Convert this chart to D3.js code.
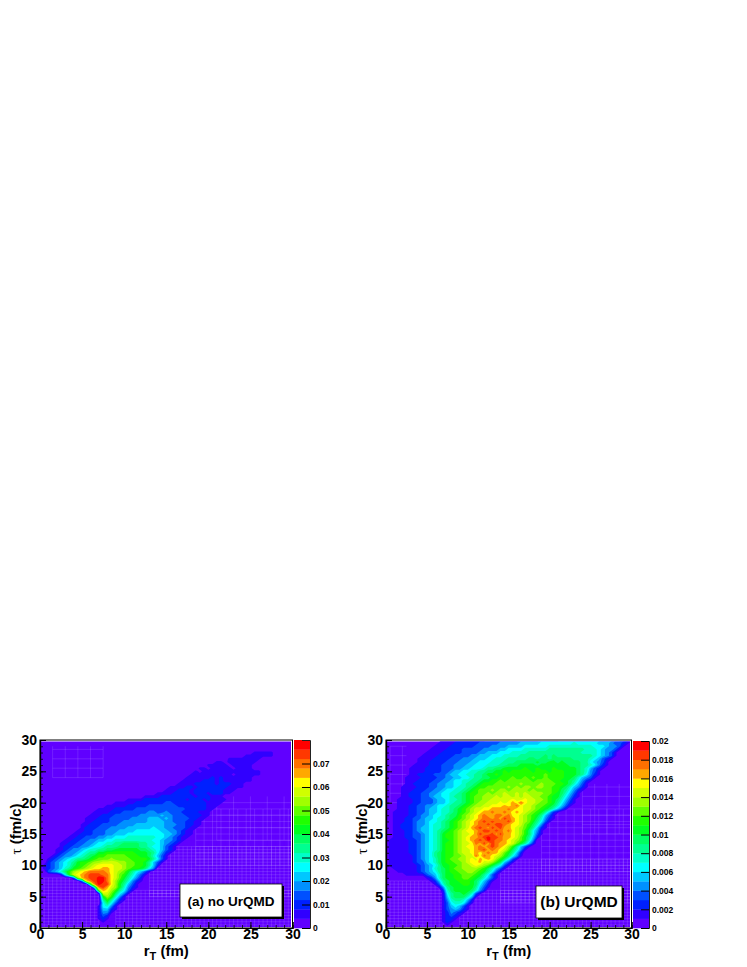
<!DOCTYPE html>
<html>
<head>
<meta charset="utf-8">
<script src="https://cdn.jsdelivr.net/npm/d3@7"></script>
<style>
body { margin: 0; background: white; }
text { font-family: "Liberation Sans", Arial, sans-serif; font-weight: bold; fill: black; }
</style>
</head>
<body>
<div id="my_dataviz"></div>
<script>
// contour band at every 0.5 fm: [tau, first rT, bands], 0-9 then a-j, spaces only for reading
var rowsA = [
[28,25.5,"1111 1"],
[27.5,24.5,"1111 111"],
[27,22.5,"1111 1111"],
[26.5,21,"1101 1111 11"],
[26,20,"1111 1011 111"],
[25.5,19,"1101 1111 0111 1"],
[25,18.5,"1011 1111 1111 1111"],
[24.5,18,"1111 1111 1101 1111 1"],
[24,17.5,"1111 1121 2111 1111"],
[23.5,17,"1111 1222 1211 1111 1"],
[23,16.5,"1111 2222 2122 2111"],
[22.5,15.5,"1111 2212 2222 2211 11"],
[22,15,"1112 2212 2222 2211 1"],
[21.5,14,"1111 2222 1222 1222 11"],
[21,12.5,"1111 2222 2222 1222 111"],
[20.5,10.5,"1111 2222 2222 2212 2212 1111"],
[20,9,"1111 1222 2222 3322 2222 2211 11"],
[19.5,8,"1111 1222 2233 3333 3222 2222 111"],
[19,7,"1111 2222 2333 3333 3333 3222 2211"],
[18.5,6.5,"1111 2223 3333 3443 3433 3222 2111"],
[18,6,"1112 2233 3333 4444 4544 3332 2221 1"],
[17.5,5.5,"1112 2233 3334 4445 5545 4333 3221 1"],
[17,5.5,"1122 2233 3444 4445 5554 4333 2211"],
[16.5,5,"1122 2333 3444 4555 5555 4443 3221 1"],
[16,5,"1222 3334 4445 5555 5655 4433 3211"],
[15.5,4.5,"1122 3334 4455 5566 6666 5544 3211"],
[15,4,"1122 2333 4455 5666 6666 6655 4321 1"],
[14.5,3.5,"1122 3334 4556 6677 7777 7665 4321 1"],
[14,3,"1122 3344 5566 7777 7777 7665 4432 1"],
[13.5,2.5,"1122 3344 5667 7889 9998 8776 5432 1"],
[13,2.5,"1223 3445 6678 8899 9998 8766 5321"],
[12.5,2,"1123 4456 7788 99aa aaaa 9987 6532 1"],
[12,2,"1234 4567 88aa bbbb bbba aa98 6421"],
[11.5,1.5,"1234 4567 89ab bccc ccbb baa9 7531"],
[11,1,"1234 5678 89ab cccd cccc bbbb a863 1"],
[10.5,1,"2345 678a bbcd deee eddc cbba 8531"],
[10,0.5,"1234 5679 abcd efff feed ccbb a852"],
[9.5,0.5,"1234 578a bcde ffgg feed cbba 964"],
[9,1,"3457 9bde fghh hhgf edca 8653 1"],
[8.5,2.5,"16be fghi iihh fecb 9753 1"],
[8,4,"3dgh iijj hfec a864 2"],
[7.5,5,"4fhi jjhf db97 421"],
[7,6,"ahji ifda 8531"],
[6.5,6.5,"7hig eda7 421"],
[6,7,"cgfd b863 1"],
[5.5,7,"1eec 9641"],
[5,7.5,"adb7 41"],
[4.5,7.5,"8b85 21"],
[4,7.5,"6963 1"],
[3.5,7,"1674 1"],
[3,7,"1552 1"],
[2.5,7,"1441"],
[2,7,"132"],
[1.5,7,"121"],
[1,7.5,"1"]
]
var rowsB = [
[30,7,"1111 2222 2223 3333 3334 4444 5555 5666 6666 6665 5544 321"],
[29.5,6.5,"1111 2222 2233 3334 4444 5555 5666 6666 6766 6665 5543 321"],
[29,6,"1111 2222 2233 3344 4455 5566 6666 7777 7777 7776 6654 431"],
[28.5,5.5,"1111 2222 3333 3444 4556 6667 7777 7888 8888 8877 7654 431"],
[28,5,"1111 2222 2333 3445 5566 6777 7888 8888 8888 8877 7765 431"],
[27.5,4.5,"1111 2222 3333 4455 5666 7777 8888 8898 9888 8888 8876 5431"],
[27,4,"1111 2222 3334 4455 5667 7788 8889 9899 8999 9988 8876 5321"],
[26.5,4,"1112 2223 3344 4556 6677 7888 9999 9a99 aa9a 9999 8865 431"],
[26,3.5,"1111 2223 3344 4556 6677 7889 99aa aa9a aaaa aa99 9887 6421"],
[25.5,3,"1111 2222 3334 4556 6678 899a aaaa baab aaab aaaa a987 5321"],
[25,3,"1111 2222 3345 5667 7889 9aab abbb bbab bbab bbaa a987 431"],
[24.5,3,"1122 2233 3455 6677 889a abab bbbb bbbb bcbb bbaa a986 421"],
[24,2.5,"1111 2222 3344 5566 7889 9aab bbcb bcbc bbcb bbba a975 431"],
[23.5,2.5,"1112 2223 3445 6677 889a abbc bccc cccb cccc bbaa 9864 21"],
[23,2.5,"1122 2233 4455 6678 89ab bbcc cccc dccc cdcc cbba 9753 1"],
[22.5,2,"1111 2223 3445 5677 89ab bccc ccdc dcdd cddc cbba 9754 21"],
[22,2,"1112 2233 4456 6778 9abc ccdc ddcd dddc dccc cbb9 8642 1"],
[21.5,2,"1122 2334 4566 7789 abbc cdcd dedd eded dddc cba9 7531"],
[21,2,"1122 2334 5566 7889 abcc ddde deed edee ddcc baa8 6421"],
[20.5,1.5,"1111 2233 3455 6778 9abc cdde eeee feef eedd cba9 7531"],
[20,1.5,"1111 2233 3455 6788 9abc ddee efef gfhf eedc cba8 6421"],
[19.5,1.5,"1112 2334 4566 7889 abcd deef ffgf ghfe edcc ba97 531"],
[19,1.5,"1112 2334 5567 789a bcde effg gggh gffe edcb a975 31"],
[18.5,1,"1111 2233 4556 7789 abcd efgg hggh gfgf edcb a852 1"],
[18,1,"1111 2234 4566 7899 bcde fghg ghhg hffe dcba 8531"],
[17.5,1,"1112 2334 5567 789a bcde fghh ghgi hgfe dcb9 7421"],
[17,1,"1112 2344 5667 89ab cdef ghih ihhh igfe dca8 631"],
[16.5,1,"1122 2344 5677 89ab cdef ghhi hiih gffe cb97 41"],
[16,1,"1122 2345 5677 89ab cdeg hihg ihig gfed ca85 21"],
[15.5,1,"1112 2345 5678 9abc deff ghii hihg hfed b964 1"],
[15,1,"1112 2334 5678 abbc deef gihh igig gfed b963 1"],
[14.5,1,"1112 2334 5678 abbc defg ghij iihg gfec a852"],
[14,0.5,"1111 1223 4567 8aab cdef ghih jihh gfed ca74"],
[13.5,0.5,"1111 1223 4567 8abb cdee fhgi gihg gfec a852"],
[13,0.5,"1111 1223 4567 8abb cdef fghg hihg fdb8 531"],
[12.5,0.5,"1111 1223 4567 8abb cdee fghi ghgf ec97 41"],
[12,0.5,"1111 1223 4568 9abb cdee fgfg hgge ca85 2"],
[11.5,0.5,"1111 1123 4568 9abb ccde ehfh gfed b964 1"],
[11,0.5,"1111 1123 4567 9abc cdde fegf gfdb 9631"],
[10.5,0.5,"1111 1123 3567 9abb ccde ffge edb9 531"],
[10,0.5,"1111 1112 3456 8aab bcdd efed ca86 31"],
[9.5,1,"1111 1123 4578 9abc cddd dcb9 7531"],
[9,1.5,"1111 1234 5689 abbc cddc ba86 31"],
[8.5,2.5,"1111 1345 79aa bbcc cba8 631"],
[8,5,"1247 9aab bccb a975 31"],
[7.5,5.5,"1258 9aab bba9 7531"],
[7,6,"1379 aaab ba96 42"],
[6.5,6.5,"1489 aaaa a853 1"],
[6,7,"279a aaa9 742"],
[5.5,7,"1689 9a97 31"],
[5,7,"1589 9975 1"],
[4.5,7,"1478 8752"],
[4,7,"1367 7631"],
[3.5,7,"1356 531"],
[3,7,"1345 421"],
[2.5,7,"1243 21"],
[2,7,"1232 1"],
[1.5,7,"1221"],
[1,7,"121"],
[0.5,7.5,"1"]
]

var palette = ["#6000ff","#3000ff","#0020ff","#0050ff","#0090ff","#00c8ff","#00ffff","#00ffc8","#00ff90","#00ff60",
               "#00ff20","#20ff00","#60ff00","#a0ff00","#d0ff00","#ffff00","#ffa800","#ff7000","#ff3800","#ff0000"]

var axisTicks = [0,5,10,15,20,25,30]
var minorTicks = d3.range(0,31)
var barTicksA = [0,0.01,0.02,0.03,0.04,0.05,0.06,0.07]
var barTicksB = [0,0.002,0.004,0.006,0.008,0.01,0.012,0.014,0.016,0.018,0.02]

// patches of the faint mesh that shows through the empty bins: [rT from, rT to, tau from, tau to, spacing]
var meshA = [[0,7,0,8,0.5],[9,30,0,6,0.5],[13,30,5,13,0.5],[18.5,30,10,19,1],[1.5,7.5,24,29,1.5],[21,30,14,21,2]]
var meshB = [[0,7,0,7.5,0.5],[9,30,0,6,0.5],[14,30,4,11,0.5],[19,30,9,19,1],[24,30,15,23,1.5],[0.5,2.5,20,29,1.5]]

var svg = d3.select("#my_dataviz").append("svg")
        .attr("width", 747)
        .attr("height", 967)
        .style("display", "block")

// turn the sparse rows into one 61x61 grid of z values
function buildGrid(rows, step) {
    var n = 61
    var values = new Array(n*n).fill(0)
    rows.forEach(function(row) {
        var j = Math.round((30 - row[0])*2)
        var start = Math.round(row[1]*2)
        var bands = row[2].split(" ").join("")
        for (var k = 0; k < bands.length; k++) {
            var i = start + k
            if (i < n) values[j*n + i] = (parseInt(bands[k], 36) + 0.5)*step
        }
    })
    return values
}

function drawPanel(p) {
    var xs = d3.scaleLinear().domain([0,30]).range([p.left, p.right])
    var ys = d3.scaleLinear().domain([0,30]).range([928, 740])
    var zs = d3.scaleLinear().domain([0,p.zmax]).range([928, p.barTop])
    var g = svg.append("g")

    // plot area
    g.append("rect").attr("x", p.left).attr("y", 740).attr("width", p.right-p.left).attr("height", 188).attr("fill", "white")
    var clipId = "clip" + p.name
    g.append("clipPath").attr("id", clipId).append("rect")
        .attr("x", p.left+1).attr("y", 741.5).attr("width", p.right-p.left-2.5).attr("height", 185.5)
    var plot = g.append("g").attr("clip-path", "url(#"+clipId+")")
    plot.append("rect").attr("x", p.left).attr("y", 740).attr("width", p.right-p.left).attr("height", 188).attr("fill", palette[0])

    // faint mesh, the contours below cover it again
    p.mesh.forEach(function(m) {
        d3.range(m[0], m[1]+0.01, m[4]).forEach(function(v) {
            plot.append("line").attr("x1", xs(v)).attr("x2", xs(v)).attr("y1", ys(m[2])).attr("y2", ys(m[3]))
                .attr("stroke", "white").attr("stroke-opacity", 0.12)
        })
        d3.range(m[2], m[3]+0.01, m[4]).forEach(function(v) {
            plot.append("line").attr("x1", xs(m[0])).attr("x2", xs(m[1])).attr("y1", ys(v)).attr("y2", ys(v))
                .attr("stroke", "white").attr("stroke-opacity", 0.12)
        })
    })

    // filled contours
    var thresholds = d3.range(1,20).map(function(i) { return i*p.zmax/20 })
    var contours = d3.contours().size([61,61]).thresholds(thresholds)(buildGrid(p.rows, p.zmax/20))
    var path = d3.geoPath(d3.geoTransform({
        point: function(gx, gy) { this.stream.point(xs((gx-0.5)/2), ys(30-(gy-0.5)/2)) }
    }))
    plot.append("g").style("filter", "blur(0.5px)").selectAll("path")
        .data(contours)
        .enter()
        .append("path")
        .attr("d", path)
        .attr("fill", function(d,i) { return palette[i+1] })

    // frame and axes, ticks point into the plot
    g.append("rect").attr("x", p.left).attr("y", 740).attr("width", p.right-p.left).attr("height", 188)
        .attr("fill", "none").attr("stroke", "black").attr("stroke-width", 1)
    var xMinor = d3.axisBottom(xs).tickValues(minorTicks).tickSize(-3).tickFormat("")
    var yMinor = d3.axisLeft(ys).tickValues(minorTicks).tickSize(-3).tickFormat("")
    g.append("g").attr("class", "minor").attr("transform", "translate(0,928)").call(xMinor)
    g.append("g").attr("class", "minor").attr("transform", "translate("+p.left+",0)").call(yMinor)
    var xAxis = g.append("g").attr("transform", "translate(0,928)")
        .call(d3.axisBottom(xs).tickValues(axisTicks).tickSize(-6).tickPadding(1))
    var yAxis = g.append("g").attr("transform", "translate("+p.left+",0)")
        .call(d3.axisLeft(ys).tickValues(axisTicks).tickSize(-6).tickPadding(3))
    xAxis.selectAll("text").style("font-size", "14px").attr("font-family", null)
    yAxis.selectAll("text").style("font-size", "14px").attr("font-family", null)
    g.selectAll(".domain").attr("stroke-width", 1.2)
    g.selectAll(".tick line").attr("stroke-width", 1)
    g.selectAll(".minor .tick line").attr("stroke-width", 0.8)

    // axis titles
    var xLabel = g.append("text").attr("text-anchor", "middle").attr("x", xs(15)).attr("y", 956).style("font-size", "15px")
    xLabel.append("tspan").text("r")
    xLabel.append("tspan").attr("dy", 3.5).style("font-size", "11px").text("T")
    xLabel.append("tspan").attr("dy", -3.5).text(" (fm)")
    var yLabel = g.append("text").attr("text-anchor", "middle")
        .attr("transform", "translate("+(p.left-19)+",829) rotate(-90)").style("font-size", "15px")
    yLabel.append("tspan").style("font-family", "'Liberation Serif'").style("font-weight", "normal").text("τ")
    yLabel.append("tspan").text(" (fm/c)")

    // colour bar
    var bar = g.append("g")
    bar.selectAll("rect")
        .data(palette)
        .enter()
        .append("rect")
        .attr("x", p.right+1.5)
        .attr("width", 16)
        .attr("y", function(d,i) { return zs((i+1)*p.zmax/20) })
        .attr("height", function(d,i) { return zs(i*p.zmax/20) - zs((i+1)*p.zmax/20) + 0.3 })
        .attr("fill", function(d) { return d })
    var zAxis = g.append("g").attr("transform", "translate("+(p.right+17.5)+",0)")
        .call(d3.axisRight(zs).tickValues(p.barTicks).tickSize(-8).tickPadding(3).tickFormat(d3.format("~g")))
    zAxis.select(".domain").attr("stroke", "#222").attr("stroke-width", 1)
    zAxis.selectAll(".tick line").attr("stroke-width", 1)
    zAxis.selectAll("text").style("font-size", "8.5px").attr("font-family", null)

    // label box with shadow
    g.append("rect").attr("x", p.box[0]+2).attr("y", p.box[1]+2).attr("width", p.box[2]).attr("height", p.box[3]).attr("fill", "black")
    g.append("rect").attr("x", p.box[0]).attr("y", p.box[1]).attr("width", p.box[2]).attr("height", p.box[3])
        .attr("fill", "white").attr("stroke", "black").attr("stroke-width", 0.8)
    g.append("text").attr("text-anchor", "middle").attr("x", p.box[0]+p.box[2]/2).attr("y", p.box[1]+p.box[3]/2+5)
        .style("font-size", p.boxFont).text(p.label)
}

drawPanel({name:"A", left:40, right:292.5, barTop:740, zmax:0.08, barTicks:barTicksA, rows:rowsA, mesh:meshA,
           box:[180,884,102,33], boxFont:"13.5px", label:"(a) no UrQMD"})
drawPanel({name:"B", left:386, right:631.5, barTop:741, zmax:0.02, barTicks:barTicksB, rows:rowsB, mesh:meshB,
           box:[536,886,86,32], boxFont:"15.5px", label:"(b) UrQMD"})
</script>
</body>
</html>
